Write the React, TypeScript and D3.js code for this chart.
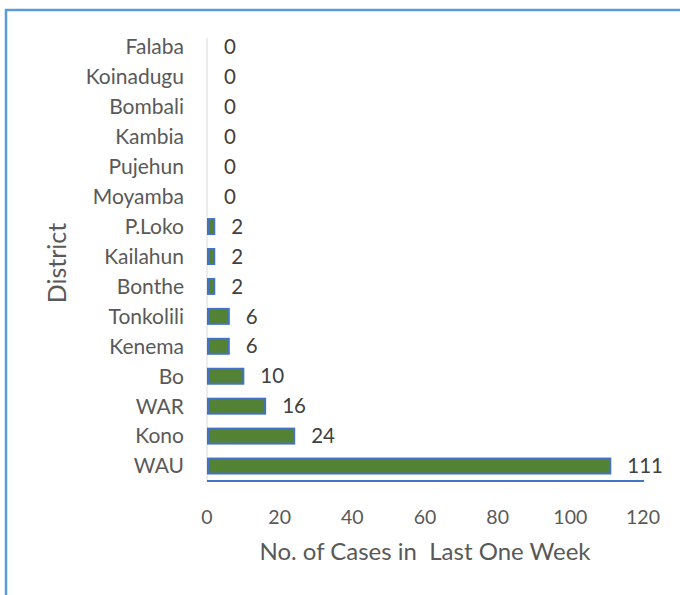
import React, { useRef, useEffect } from "react";
import * as d3 from "d3";

const districts = ["Falaba", "Koinadugu", "Bombali", "Kambia", "Pujehun", "Moyamba", "P.Loko", "Kailahun", "Bonthe", "Tonkolili", "Kenema", "Bo", "WAR", "Kono", "WAU"];
const cases = [0, 0, 0, 0, 0, 0, 2, 2, 2, 6, 6, 10, 16, 24, 111];
const xTicks = [0, 20, 40, 60, 80, 100, 120];

const FONT = "Lato, 'Open Sans', sans-serif";

const App = () => {
  const chartRef = useRef<SVGSVGElement>(null);

  useEffect(() => {
    const svg = d3.select(chartRef.current);
    svg.selectAll("*").remove();

    // outer frame (runs off the right and bottom)
    svg.append("rect")
      .attr("x", 6)
      .attr("y", 10)
      .attr("width", 700)
      .attr("height", 620)
      .attr("fill", "white")
      .attr("stroke", "#5b9bd5")
      .attr("stroke-width", 2.5);

    const data = districts.map((d, i) => ({ name: d, value: cases[i] }));

    const x = d3.scaleLinear().domain([0, 120]).range([207, 643]);
    const y = d3.scaleBand().domain(districts).range([32, 481]).paddingInner(0.5).paddingOuter(0.25);

    // vertical axis line
    svg.append("line")
      .attr("x1", x(0)).attr("x2", x(0))
      .attr("y1", 38).attr("y2", 481)
      .attr("stroke", "#d9d9d9")
      .attr("stroke-width", 1);

    // category labels
    svg.append("g")
      .selectAll("text")
      .data(districts)
      .enter()
      .append("text")
      .attr("x", 184)
      .attr("y", d => (y(d) as number) + y.bandwidth() / 2)
      .attr("dy", "0.35em")
      .attr("text-anchor", "end")
      .style("font-family", FONT)
      .style("font-size", "21px")
      .style("fill", "#595959")
      .text(d => d);

    // bars
    svg.append("g")
      .selectAll("rect")
      .data(data.filter(d => d.value > 0))
      .enter()
      .append("rect")
      .attr("x", x(0) + 1)
      .attr("y", d => y(d.name) as number)
      .attr("width", d => x(d.value) - x(0) - 1)
      .attr("height", y.bandwidth())
      .attr("fill", "#548235")
      .attr("stroke", "#4472c4")
      .attr("stroke-width", 2);

    // value labels
    svg.append("g")
      .selectAll("text")
      .data(data)
      .enter()
      .append("text")
      .attr("x", d => x(d.value) + 17)
      .attr("y", d => (y(d.name) as number) + y.bandwidth() / 2)
      .attr("dy", "0.35em")
      .style("font-family", FONT)
      .style("font-size", "20.5px")
      .style("fill", "#404040")
      .text(d => d.value);

    // blue baseline under the bars
    svg.append("line")
      .attr("x1", x(0)).attr("x2", x(120) + 1)
      .attr("y1", 481).attr("y2", 481)
      .attr("stroke", "#4472c4")
      .attr("stroke-width", 2);

    // x tick labels
    svg.append("g")
      .selectAll("text")
      .data(xTicks)
      .enter()
      .append("text")
      .attr("x", d => x(d))
      .attr("y", 517)
      .attr("dy", "0.35em")
      .attr("text-anchor", "middle")
      .style("font-family", FONT)
      .style("font-size", "19.5px")
      .style("fill", "#595959")
      .text(d => d);

    // axis titles
    svg.append("text")
      .attr("x", 425)
      .attr("y", 552)
      .attr("dy", "0.35em")
      .attr("text-anchor", "middle")
      .style("font-family", FONT)
      .style("font-size", "24px")
      .style("fill", "#595959")
      .style("white-space", "pre")
      .text("No. of Cases in  Last One Week");

    svg.append("text")
      .attr("transform", `translate(57, 263) rotate(-90)`)
      .attr("dy", "0.35em")
      .attr("text-anchor", "middle")
      .style("font-family", FONT)
      .style("font-size", "25px")
      .style("fill", "#595959")
      .text("District");
  }, []);

  return (
    <div style={{ position: "absolute", left: 0, top: 0, width: 680, height: 595 }}>
      <svg ref={chartRef} width={680} height={595} style={{ display: "block", backgroundColor: "white" }}></svg>
    </div>
  );
};

export default App;
